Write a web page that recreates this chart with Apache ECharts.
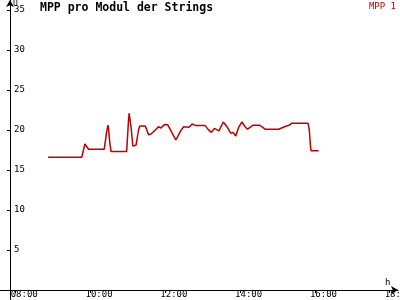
<!DOCTYPE html>
<html>
<head>
<meta charset="utf-8">
<script src="https://cdn.jsdelivr.net/npm/echarts@6/dist/echarts.min.js"></script>
<style>html,body{margin:0;padding:0;background:#fff}#c{width:400px;height:300px}</style>
</head>
<body>
<div id="c"></div>
<script>
var times = ['08:52','09:46','09:51','09:53','09:57','10:22','10:26','10:28','10:29','10:31','10:33','10:58','11:01','11:02','11:05','11:08','11:13','11:15','11:17','11:19','11:28','11:33','11:37','11:44','11:49','11:53','11:59','12:04','12:11','12:17','12:24','12:29','12:38','12:43','12:49','13:04','13:09','13:14','13:19','13:26','13:33','13:39','13:45','13:49','13:53','13:58','14:03','14:07','14:12','14:17','14:21','14:31','14:36','14:40','15:02','15:05','15:14','15:19','15:23','15:49','15:51','15:53','15:54','16:06'];
var mpp1 = [16.6,16.6,18.25,18.0,17.6,17.6,19.8,20.6,20.1,18.4,17.3,17.3,21.25,22.1,20.4,18.0,18.1,19.0,20.0,20.5,20.5,19.4,19.5,20.0,20.4,20.25,20.7,20.65,19.6,18.75,19.8,20.4,20.35,20.75,20.55,20.55,20.05,19.7,20.2,19.9,21.0,20.4,19.6,19.7,19.25,20.4,21.0,20.5,20.1,20.4,20.6,20.6,20.35,20.1,20.1,20.1,20.5,20.6,20.85,20.85,20.0,17.9,17.4,17.4];
var xTickLabels = ['08:00','10:00','12:00','14:00','16:00','18:00'];
var yTickValues = [5,10,15,20,25,30,35];
var seriesName = 'MPP 1';
var titleText = 'MPP pro Modul der Strings';
var yAxisName = 'U';
var xAxisName = 'h';

function toHours(s){var p=s.split(':');return +p[0]+(+p[1])/60;}
var xTickValues = xTickLabels.map(toHours);
var labelShift = 5/37.4;
var xLabelValues = xTickValues.map(function(v){return v-labelShift;});
var data = times.map(function(t,i){return [toHours(t), mpp1[i]];});

var font = 'DejaVu Sans Mono';
var red = '#c00000';
var chart = echarts.init(document.getElementById('c'), null, {renderer:'canvas'});
chart.setOption({
  animation:false,
  backgroundColor:'#fff',
  title:[
    {text:titleText,left:40,top:2,padding:0,textStyle:{fontFamily:font,fontSize:11.5,fontWeight:'bold',color:'#000'}},
    {text:yAxisName,left:13,top:0,padding:0,textStyle:{fontFamily:font,fontSize:8,fontWeight:'normal',color:'#000'}}
  ],
  legend:{right:4,top:2,padding:0,itemWidth:0,itemHeight:0,itemGap:0,
    data:[{name:seriesName,icon:'none'}],
    textStyle:{fontFamily:font,fontSize:9,color:red,padding:0}},
  grid:{left:0,right:2,top:0,bottom:0,containLabel:false,outerBoundsMode:'none'},
  xAxis:{type:'value',min:8-15.7/37.4,max:8-15.7/37.4+398/37.4,
    name:xAxisName,nameLocation:'end',nameGap:-13,nameMoveOverlap:false,
    nameTextStyle:{fontFamily:font,fontSize:9,color:'#000',align:'left',verticalAlign:'bottom',padding:[0,0,3,0]},
    axisLine:{onZero:true,lineStyle:{color:'#000',width:1},symbol:['none','arrow'],symbolSize:[6,7]},
    axisTick:{show:true,length:3,customValues:xTickValues,lineStyle:{color:'#000'}},
    axisLabel:{customValues:xLabelValues,align:'left',margin:-10,fontFamily:font,fontSize:9,color:'#000',
      formatter:function(v){return xTickLabels[Math.round(v/2-4)]||'';}},
    splitLine:{show:false}},
  yAxis:{type:'value',min:-1.25,max:36.25,offset:-10,
    axisLine:{show:true,lineStyle:{color:'#000',width:1},symbol:['none','arrow'],symbolSize:[6,7]},
    axisTick:{show:true,length:3,customValues:yTickValues,lineStyle:{color:'#000'}},
    axisLabel:{inside:true,customValues:yTickValues,margin:4,fontFamily:font,fontSize:9,color:'#000'},
    splitLine:{show:false}},
  series:[{name:seriesName,type:'line',data:data,showSymbol:false,symbol:'none',
    lineStyle:{color:red,width:1.5},itemStyle:{color:red}}]
});
</script>
</body>
</html>
